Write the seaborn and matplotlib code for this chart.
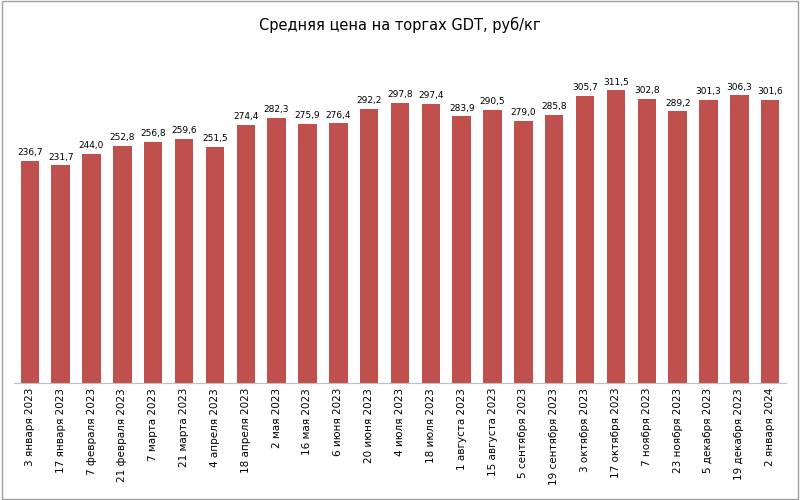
import matplotlib
matplotlib.use("Agg")
import matplotlib.pyplot as plt
import seaborn as sns
import pandas as pd

dates = ["3 января 2023","17 января 2023","7 февраля 2023","21 февраля 2023","7 марта 2023",
         "21 марта 2023","4 апреля 2023","18 апреля 2023","2 мая 2023","16 мая 2023",
         "6 июня 2023","20 июня 2023","4 июля 2023","18 июля 2023","1 августа 2023",
         "15 августа 2023","5 сентября 2023","19 сентября 2023","3 октября 2023","17 октября 2023",
         "7 ноября 2023","23 ноября 2023","5 декабря 2023","19 декабря 2023","2 января 2024"]
prices = [236.7,231.7,244.0,252.8,256.8,259.6,251.5,274.4,282.3,275.9,276.4,292.2,297.8,297.4,
          283.9,290.5,279.0,285.8,305.7,311.5,302.8,289.2,301.3,306.3,301.6]

df = pd.DataFrame({"date": dates, "price": prices})
fig = plt.figure(figsize=(8, 5), dpi=100)
ax = fig.add_axes([0.018, 0.234, 0.964, 0.62])
sns.barplot(data=df, x="date", y="price", color="#C0504D", saturation=1, width=0.6, ax=ax)
ax.set_ylim(0, 330)
ax.set_xlim(-0.5, len(dates) - 0.5)
for i, v in enumerate(prices):
    ax.text(i, v + 4, f"{v:.1f}".replace(".", ","), ha="center", va="bottom", fontsize=6.5)
ax.set_xlabel(""); ax.set_ylabel("")
ax.set_yticks([])
ax.tick_params(axis="x", rotation=90, labelsize=7.5, length=0)
for s in ["top", "right", "left"]:
    ax.spines[s].set_visible(False)
ax.spines["bottom"].set_color("#bfbfbf")
fig.text(0.5, 0.95, "Средняя цена на торгах GDT, руб/кг", ha="center", va="center", fontsize=10.5)
fig.patches.append(plt.Rectangle((0.002, 0.002), 0.996, 0.996, transform=fig.transFigure,
                                 fill=False, edgecolor="#a0a0a0", linewidth=1))
fig.savefig("out.png", dpi=100)
